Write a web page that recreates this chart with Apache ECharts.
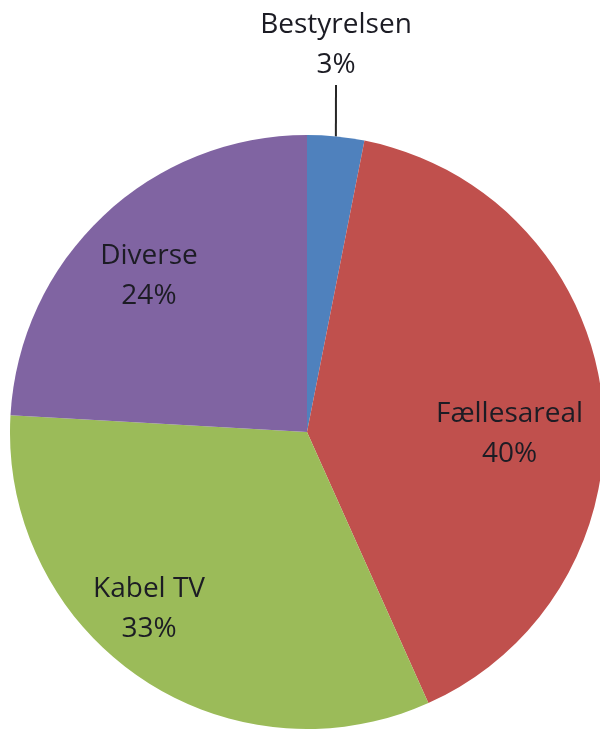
<!DOCTYPE html>
<html>
<head>
<meta charset="utf-8">
<title></title>
<script src="https://cdn.jsdelivr.net/npm/echarts@6/dist/echarts.min.js"></script>
<style>
  html, body { margin: 0; padding: 0; background: #fff; }
  #main { width: 600px; height: 729px; }
</style>
</head>
<body>
<div id="main"></div>
<script type="text/javascript">
  // kategorier og værdier
  var names = ['Bestyrelsen', 'Fællesareal', 'Kabel TV', 'Diverse'];
  var values = [3.1, 40.2, 32.6, 24.1];
  var colors = ['#4F81BD', '#C0504D', '#9BBB59', '#8064A2'];

  // forskydning af etiketter i forhold til echarts' standardplacering
  var labelShift = {
    'Fællesareal': [52, 19],
    'Kabel TV': [-72, 52],
    'Diverse': [-54, -46]
  };

  var myChart = echarts.init(document.getElementById('main'));

  var data = [];
  for (var i = 0; i < names.length; i++) {
    var item = { name: names[i], value: values[i], itemStyle: { color: colors[i] } };
    if (i == 0) {
      item.label = { position: 'outside' };
      item.labelLine = { show: true, length: 50, length2: 0, lineStyle: { color: '#262626', width: 2 } };
    }
    data.push(item);
  }

  var option = {
    animation: false,
    series: [{
      type: 'pie',
      center: [307, 432],
      radius: 297,
      startAngle: 90,
      clockwise: true,
      itemStyle: { borderWidth: 0 },
      label: {
        show: true,
        position: 'inside',
        color: '#1c1c24',
        fontFamily: 'Open Sans',
        fontSize: 28,
        lineHeight: 40,
        formatter: function (p) {
          return p.name + '\n' + Math.round(p.percent) + '%';
        }
      },
      labelLine: { show: false },
      labelLayout: function (params) {
        if (params.dataIndex == 0) {
          // etiket centreret over en lodret streg
          return { x: 336, y: 45, align: 'center', verticalAlign: 'middle' };
        }
        var s = labelShift[names[params.dataIndex]];
        if (s) return { dx: s[0], dy: s[1] };
        return {};
      },
      data: data
    }]
  };
  myChart.setOption(option);
</script>
</body>
</html>
